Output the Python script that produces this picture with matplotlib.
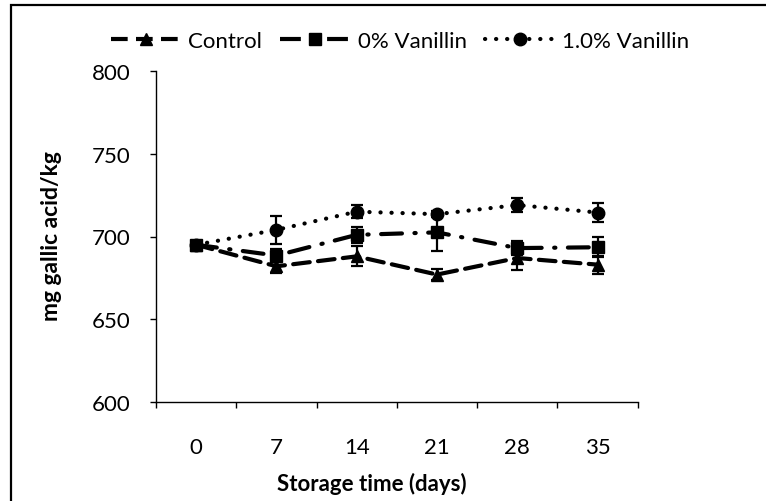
import matplotlib
matplotlib.use("Agg")
import matplotlib.pyplot as plt
from matplotlib.patches import Rectangle
from matplotlib.lines import Line2D
import numpy as np

plt.rcParams['font.family'] = ['Lato', 'DejaVu Sans']

days = ["0", "7", "14", "21", "28", "35"]
control = [695, 682, 688, 677, 687, 683]
control_err = [2, 4, 6, 3.5, 7, 5.5]
van0 = [695, 688.5, 701, 702.5, 693, 693.5]
van0_err = [2, 4, 5, 11, 4, 6]
van1 = [695, 704, 715, 713.5, 719, 714.5]
van1_err = [2, 8.5, 4, 2, 4, 6]

W, H = 766, 502
fig = plt.figure(figsize=(W / 100, H / 100), dpi=100)
ax = fig.add_axes([156 / W, 1 - 403 / H, (637.7 - 156) / W, (403 - 72) / H])

x = np.arange(len(days))
lw = 3
common = dict(color='black', ecolor='black', elinewidth=1.6, capsize=4.5, capthick=1.6,
              markersize=9, lw=lw)
ls1 = (0, (4, 2))
ls2 = (0, (5, 3, 0.3, 3))
ls3 = (0, (0.05, 2.6))
e1 = ax.errorbar(x, control, yerr=control_err, marker='^', linestyle=ls1, **common)
e2 = ax.errorbar(x, van0, yerr=van0_err, marker='s', linestyle=ls2, **common)
e3 = ax.errorbar(x, van1, yerr=van1_err, marker='o', linestyle=ls3, **common)
for e in (e1, e2, e3):
    e[0].set_dash_capstyle('round')

ax.set_xlim(-0.5, len(days) - 0.5)
ax.set_ylim(600, 800)
ax.set_yticks([600, 650, 700, 750, 800])
ax.set_xticks(x)
ax.set_xticklabels(days)
ax.set_xticks(np.arange(-0.5, len(days), 1.0), minor=True)
ax.tick_params(axis='x', which='major', length=0, pad=25, labelsize=16)
ax.tick_params(axis='x', which='minor', length=4.3, width=1, direction='out')
ax.tick_params(axis='y', which='major', length=4.3, width=1, direction='out', pad=14, labelsize=16)
for s in ('top', 'right'):
    ax.spines[s].set_visible(False)
for s in ('left', 'bottom'):
    ax.spines[s].set_linewidth(1)

fig.text(372 / W, 1 - 484 / H, "Storage time (days)", ha='center', va='center',
         fontsize=16, fontweight='bold')
fig.text(52 / W, 1 - 236 / H, "mg gallic acid/kg", ha='center', va='center',
         rotation=90, fontsize=16.5, fontweight='bold')

h1 = Line2D([], [], color='black', marker='^', markersize=9, lw=lw, linestyle=ls1)
h2 = Line2D([], [], color='black', marker='s', markersize=9, lw=lw, linestyle=ls2)
h3 = Line2D([], [], color='black', marker='o', markersize=9, lw=lw, linestyle=ls3,
            dash_capstyle='round')
leg = fig.legend([h1, h2, h3], ["Control", "0% Vanillin", "1.0% Vanillin"],
                 loc='center', bbox_to_anchor=(400 / W, 1 - 42 / H), ncol=3,
                 frameon=False, fontsize=16, handlelength=3.15, handletextpad=0.35,
                 columnspacing=0.8, borderpad=0)

fig.patches.append(Rectangle((10.5 / W, -0.1), 1.2, 1 - 6 / H + 0.1, transform=fig.transFigure,
                             fill=False, edgecolor='black', linewidth=1.6))

fig.savefig("out.png", dpi=100)
